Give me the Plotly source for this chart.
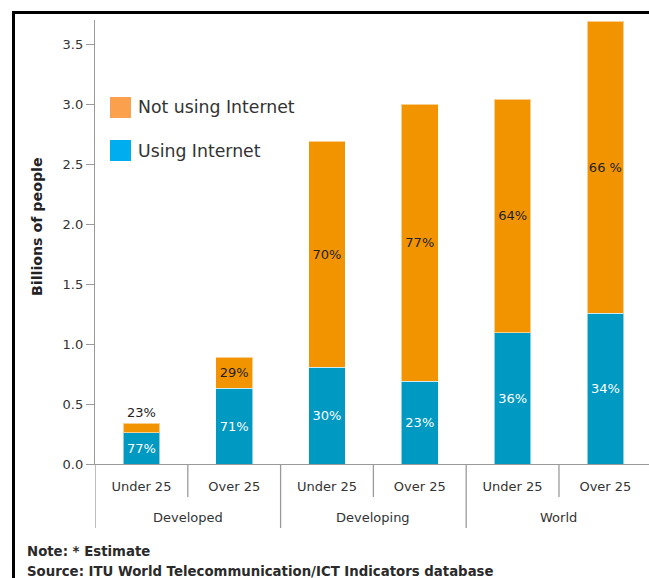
import plotly.graph_objects as go

# Internet use by age group, billions of people
groups = ["Developed", "Developing", "World"]
ages = ["Under 25", "Over 25"]
totals = [0.34, 0.89, 2.69, 3.00, 3.04, 3.69]          # all people, billions
pct_using = [77, 71, 30, 23, 36, 34]                    # share using Internet, %
pct_not = [23, 29, 70, 77, 64, 66]                      # share not using Internet, %
pct_not_text = ["23%", "29%", "70%", "77%", "64%", "66 %"]
y_ticks = [0.0, 0.5, 1.0, 1.5, 2.0, 2.5, 3.0, 3.5]

using = [t * p / 100 for t, p in zip(totals, pct_using)]
not_using = [t * p / 100 for t, p in zip(totals, pct_not)]

W, H = 649, 578
L, R, T, B = 95, 0, 20, 114
PW, PH = W - L - R, H - T - B

FONT = "DejaVu Sans"
ORANGE = "#F29400"
BLUE = "#0099C2"
TXT = "#333333"

xs = list(range(len(totals)))
tick_text = [ages[i % 2] for i in xs]


def px_x(p):
    return (p - L) / PW


def px_y(p):
    return (H - B - p) / PH


fig = go.Figure()
fig.add_trace(go.Bar(
    x=xs, y=using, width=0.395, name="Using Internet",
    marker=dict(color=BLUE, line=dict(color="rgba(255,255,255,0.55)", width=1)),
    text=[f"{p}%" for p in pct_using], textposition="inside",
    insidetextanchor="middle", constraintext="none", textangle=0,
    insidetextfont=dict(family=FONT, size=13, color="white"),
    showlegend=False, hoverinfo="skip",
))
fig.add_trace(go.Bar(
    x=xs, y=not_using, width=0.395, name="Not using Internet",
    marker=dict(color=ORANGE, line=dict(color="rgba(255,255,255,0.55)", width=1)),
    text=pct_not_text,
    textposition=["outside"] + ["inside"] * (len(xs) - 1),
    insidetextanchor="middle", constraintext="none", textangle=0,
    insidetextfont=dict(family=FONT, size=13, color="#222222"),
    outsidetextfont=dict(family=FONT, size=13, color="#222222"),
    cliponaxis=False, showlegend=False, hoverinfo="skip",
))

shapes = []
# category dividers below the x axis: long ones between groups
for i in range(len(xs)):
    long_line = i % 2 == 0
    shapes.append(dict(
        type="line", xref="x", yref="paper", x0=i - 0.5, x1=i - 0.5,
        y0=0, y1=px_y(528) if long_line else px_y(497),
        line=dict(color="#9a9a9a", width=1.3),
    ))

# legend swatches
for top, bottom, col in [(97, 118, "#FBA04C"), (140, 161, "#00AEEF")]:
    shapes.append(dict(
        type="rect", xref="paper", yref="paper",
        x0=px_x(110), x1=px_x(131), y0=px_y(bottom), y1=px_y(top),
        line=dict(width=0), fillcolor=col,
    ))

# frame lines on the left and top
shapes.append(dict(type="line", xref="paper", yref="paper",
                   x0=px_x(13.5), x1=px_x(13.5), y0=px_y(11), y1=px_y(H + 2),
                   line=dict(color="black", width=3)))
shapes.append(dict(type="line", xref="paper", yref="paper",
                   x0=px_x(12), x1=px_x(W + 2), y0=px_y(12.5), y1=px_y(12.5),
                   line=dict(color="black", width=3)))

annotations = []
for g, name in enumerate(groups):
    annotations.append(dict(
        x=2 * g + 0.5, xref="x", y=px_y(517), yref="paper",
        text=name, showarrow=False, xanchor="center", yanchor="middle",
        font=dict(family=FONT, size=13, color=TXT),
    ))

for label, yc in [("Not using Internet", 107), ("Using Internet", 151)]:
    annotations.append(dict(
        x=px_x(136), xref="paper", y=px_y(yc), yref="paper",
        text=label, showarrow=False, xanchor="left", yanchor="middle",
        font=dict(family=FONT, size=17.3, color=TXT),
    ))

annotations.append(dict(
    x=px_x(37), xref="paper", y=px_y(227), yref="paper",
    text="Billions of people", showarrow=False, textangle=-90,
    xanchor="center", yanchor="middle",
    font=dict(family=FONT, size=14.2, color="#222222", weight="bold"),
))

for text, yc in [("Note: * Estimate", 551),
                 ("Source: ITU World Telecommunication/ICT Indicators database", 571)]:
    annotations.append(dict(
        x=px_x(25), xref="paper", y=px_y(yc), yref="paper",
        text=text, showarrow=False, xanchor="left", yanchor="middle",
        font=dict(family=FONT, size=13.3, color="#2a2a2a", weight="bold"),
    ))

fig.update_layout(
    width=W, height=H,
    margin=dict(l=L, r=R, t=T, b=B, pad=0),
    barmode="stack",
    paper_bgcolor="white", plot_bgcolor="white",
    showlegend=False,
    xaxis=dict(
        range=[-0.5, 5.47], tickmode="array", tickvals=xs, ticktext=tick_text,
        showline=True, linecolor="#9a9a9a", linewidth=1.3,
        ticks="outside", ticklen=10, tickcolor="rgba(0,0,0,0)",
        tickfont=dict(family=FONT, size=13, color=TXT),
        showgrid=False, zeroline=False, fixedrange=True,
    ),
    yaxis=dict(
        range=[0, 3.7], tickmode="array", tickvals=y_ticks,
        tickformat=".1f", showline=True, linecolor="#9a9a9a", linewidth=1.3,
        ticks="outside", ticklen=8, tickcolor="#9a9a9a", tickwidth=1,
        tickfont=dict(family=FONT, size=13, color=TXT),
        showgrid=False, zeroline=False, fixedrange=True,
    ),
    shapes=shapes,
    annotations=annotations,
)

fig.write_html("out.html")
